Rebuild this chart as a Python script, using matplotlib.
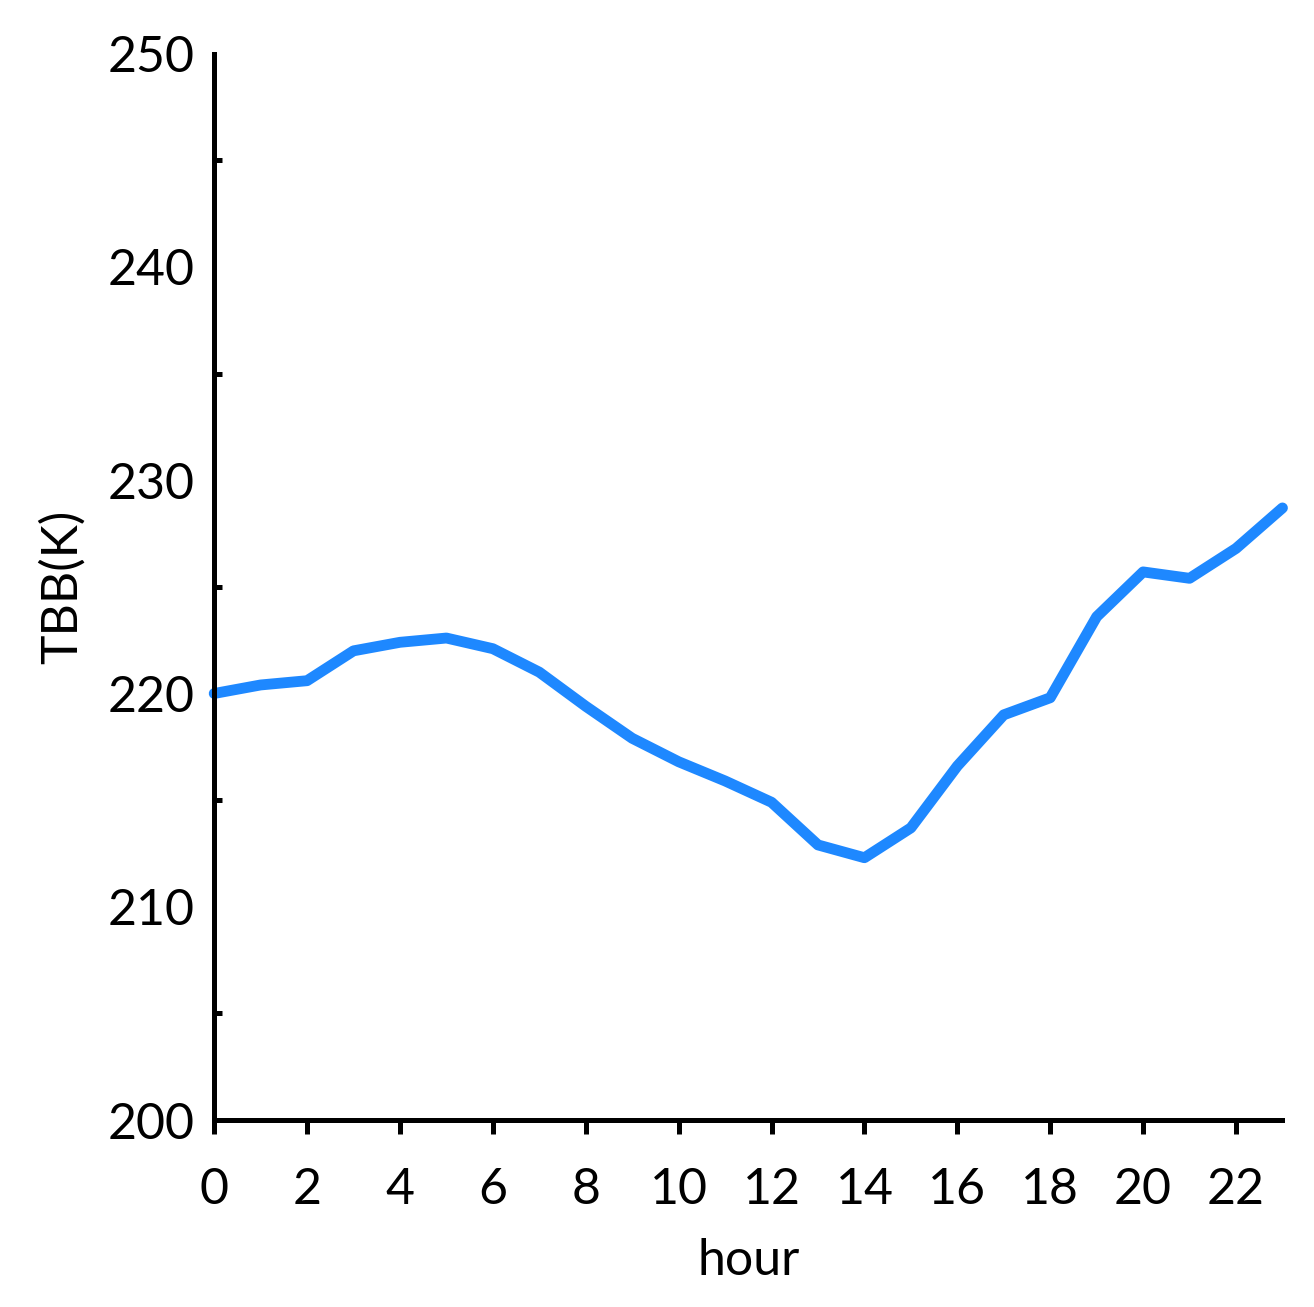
import matplotlib
matplotlib.use("Agg")
import matplotlib.pyplot as plt
from matplotlib.ticker import MultipleLocator

plt.rcParams['font.family'] = ['Lato', 'DejaVu Sans']

hours = list(range(24))
tbb = [220.0, 220.4, 220.6, 222.0, 222.4, 222.6, 222.1, 221.0, 219.4, 217.9,
       216.8, 215.9, 214.9, 212.9, 212.3, 213.7, 216.6, 219.0, 219.8, 223.6,
       225.7, 225.4, 226.8, 228.7]

fig = plt.figure(figsize=(13.14, 13.07), dpi=100)
ax = fig.add_axes([0.163, 0.143, 0.813, 0.816])

ax.plot(hours, tbb, color='#1E88FF', linewidth=7.8, solid_capstyle='round', clip_on=False)

ax.set_xlim(0, 23)
ax.set_ylim(200, 250)
ax.set_xticks(range(0, 23, 2))
ax.set_yticks(range(200, 251, 10))
ax.yaxis.set_minor_locator(MultipleLocator(5))

for s in ['top', 'right']:
    ax.spines[s].set_visible(False)
for s in ['left', 'bottom']:
    ax.spines[s].set_linewidth(3.6)

ax.tick_params(axis='x', which='major', direction='out', length=10, width=3.6,
               labelsize=36, pad=24)
ax.tick_params(axis='y', which='major', length=0, labelsize=36, pad=14)
ax.tick_params(axis='y', which='minor', direction='in', length=6, width=3.6)

ax.set_xlabel('hour', fontsize=36, labelpad=18)
ax.set_ylabel('TBB(K)', fontsize=36, labelpad=16)

fig.savefig('out.png', dpi=100)
